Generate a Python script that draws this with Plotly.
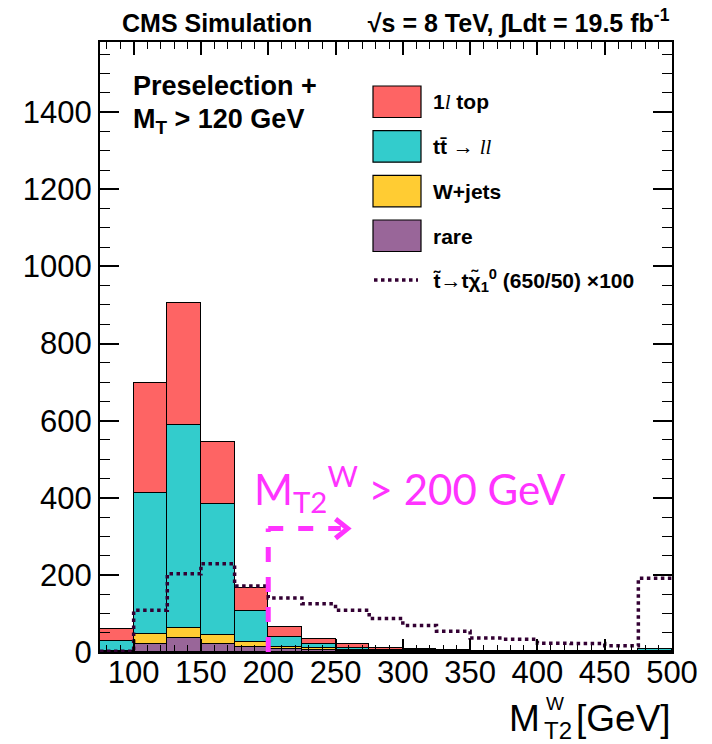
import plotly.graph_objects as go

# ---- data (bins of 25 GeV from 75 to 500) ----
bin_edges = [75, 100, 125, 150, 175, 200, 225, 250, 275, 300, 325, 350, 375, 400, 425, 450, 475, 500]
rare   = [2, 22, 37, 22, 13, 8, 5, 3, 2, 1, 1, 1, 0.5, 0.5, 0.5, 0.5, 1]
wjets  = [1, 24, 24, 22, 12, 4, 5, 2, 1, 1, 0.5, 0.5, 0.3, 0.3, 0.2, 0.2, 0.5]
ttll   = [25, 366, 528, 341, 81, 26, 12, 5, 3, 2, 1.5, 1, 1, 1, 1, 1, 5]
top1l  = [32, 286, 315, 160, 59, 28, 13, 12, 5, 3, 2, 1, 1, 0.5, 0.5, 0.5, 1]
signal = [2, 108, 203, 229, 171, 140, 125, 108, 87, 69, 54, 36, 33, 23, 22, 16, 191]

x_ticks = [100, 150, 200, 250, 300, 350, 400, 450, 500]
y_ticks = [0, 200, 400, 600, 800, 1000, 1200, 1400]

centers = [(a + b) / 2 for a, b in zip(bin_edges[:-1], bin_edges[1:])]
widths = [b - a for a, b in zip(bin_edges[:-1], bin_edges[1:])]

FONT = "Liberation Sans, Arial, Helvetica, sans-serif"
SERIF_L = "<i><span style='font-family:Liberation Serif'>l</span></i>"
colors = {"top": "#fe6464", "ttll": "#33cccc", "wjets": "#ffcc33", "rare": "#996699"}

fig = go.Figure()
for name, vals, key in [("rare", rare, "rare"), ("W+jets", wjets, "wjets"),
                        ("tt → ll", ttll, "ttll"), ("1l top", top1l, "top")]:
    fig.add_trace(go.Bar(x=centers, y=vals, width=widths, name=name,
                         marker=dict(color=colors[key], line=dict(color="black", width=1.2)),
                         showlegend=False))

fig.add_trace(go.Scatter(x=bin_edges, y=signal + [signal[-1]], mode="lines",
                         line=dict(shape="hv", color="#330033", width=3.5, dash="dot"),
                         showlegend=False))

# plot area in px
L, R, T, B = 100, 672, 42, 652
W, H = 712, 744

def px(xp):
    return (xp - L) / (R - L)

def py(yp):
    return (B - yp) / (B - T)

shapes = []
annotations = []

def txt(x, y, text, size, xanchor="left", family=FONT, color="black"):
    annotations.append(dict(xref="paper", yref="paper", x=px(x), y=py(y),
                            xanchor=xanchor, yanchor="middle", showarrow=False,
                            text=text, font=dict(family=family, size=size, color=color)))

# manual legend
leg_items = [("top", "<b>1</b>" + SERIF_L + "<b> top</b>"),
             ("ttll", "<b>tt̄</b> → " + SERIF_L + SERIF_L),
             ("wjets", "<b>W+jets</b>"), ("rare", "<b>rare</b>")]
tops = [86, 130.7, 175.3, 220]
for (key, label), t in zip(leg_items, tops):
    shapes.append(dict(type="rect", xref="paper", yref="paper",
                       x0=px(373), x1=px(421), y0=py(t + 31.5), y1=py(t),
                       fillcolor=colors[key], line=dict(color="black", width=1.2)))
    txt(431, t + 16, label, 21)
shapes.append(dict(type="line", xref="paper", yref="paper",
                   x0=px(374), x1=px(418), y0=py(280), y1=py(280),
                   line=dict(color="#330033", width=3.5, dash="dot")))
txt(431, 280, "<b>t̃→tχ̃<sub>1</sub><sup>0</sup> (650/50) ×100</b>", 21)

# header
txt(672, 22, "<b>CMS Simulation" + "&nbsp;" * 8 +
    "√s = 8 TeV, ∫Ldt = 19.5 fb<sup>-1</sup></b>", 25, xanchor="right")
# selection label
txt(131, 86, "<b>Preselection +</b>", 27)
txt(131, 121, "<b>M<sub>T</sub> > 120 GeV</b>", 27)

# x title: M with W stacked above T2, then [GeV]
txt(673, 718, "[GeV]", 37, xanchor="right")
txt(542, 718, "M", 37, xanchor="right")
txt(542, 730, "T2", 24)
txt(544, 703, "W", 19)

# magenta cut annotation
MAG = "#ff33ff"
annotations.append(dict(xref="x", yref="y", x=188, y=425,
                        xanchor="left", yanchor="middle", showarrow=False,
                        text="M<sub>T2</sub><sup>W</sup> > 200 GeV",
                        font=dict(family="Lato, Noto Sans, sans-serif", size=42, color=MAG)))
cut_x = 200
shapes.append(dict(type="line", xref="x", yref="y", x0=cut_x, x1=cut_x, y0=0, y1=320,
                   line=dict(color=MAG, width=5, dash="dash")))
shapes.append(dict(type="line", xref="x", yref="y", x0=cut_x, x1=254, y0=320, y1=320,
                   line=dict(color=MAG, width=5, dash="dash")))
shapes.append(dict(type="path", xref="x", yref="y",
                   path="M 250 345 L 259 320 L 250 295",
                   line=dict(color=MAG, width=5)))

axis_common = dict(showline=True, linecolor="black", linewidth=2, mirror="allticks",
                   ticks="inside", tickcolor="black", showgrid=False, zeroline=False,
                   tickfont=dict(family=FONT, size=31, color="black"))

fig.update_layout(
    width=W, height=H,
    margin=dict(l=L, r=W - R, t=T, b=H - B),
    paper_bgcolor="white", plot_bgcolor="white",
    barmode="stack", bargap=0,
    shapes=shapes, annotations=annotations,
    xaxis=dict(range=[75, 500], tickvals=x_ticks, ticklen=13, tickwidth=1.5,
               ticklabelstandoff=-8,
               minor=dict(dtick=10, tick0=0, ticks="inside", ticklen=7, tickcolor="black", tickwidth=1.2),
               **axis_common),
    yaxis=dict(range=[0, 1582], tickvals=y_ticks, ticklen=19, tickwidth=1.5,
               minor=dict(dtick=50, tick0=0, ticks="inside", ticklen=10, tickcolor="black", tickwidth=1.2),
               **axis_common),
)

fig.write_html("out.html")
